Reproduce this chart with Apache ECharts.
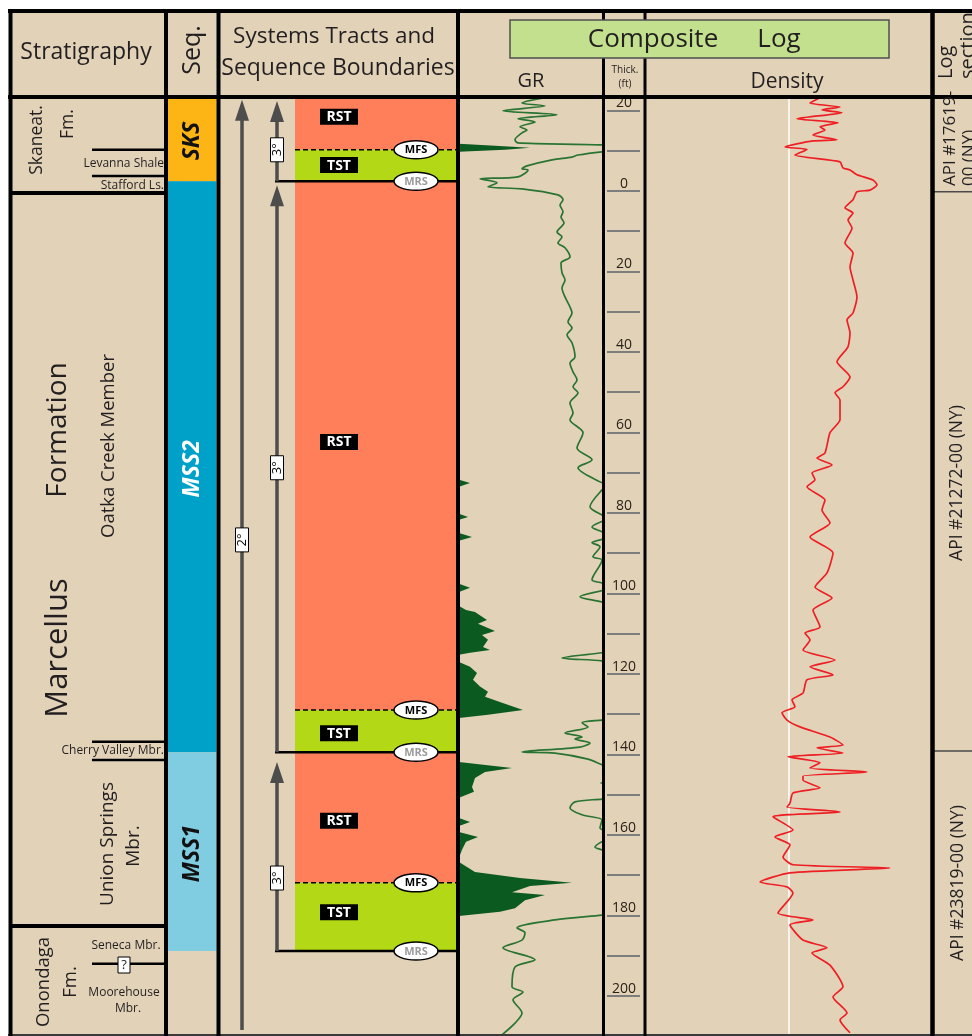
<!DOCTYPE html>
<html>
<head>
<meta charset="utf-8">
<script src="https://cdn.jsdelivr.net/npm/echarts@6/dist/echarts.min.js"></script>
<style>
  html, body { margin: 0; padding: 0; background: #ffffff; }
  #chart { width: 972px; height: 1036px; }
</style>
</head>
<body>
<div id="chart"></div>
<script>
// Depth in feet relative to the top of the Marcellus (negative = above it)
const depthRange = [-23.3, 209.7];

// Thickness scale labels (ft)
const thickLabels = [-20, 0, 20, 40, 60, 80, 100, 120, 140, 160, 180, 200];

// Sequences: [name, top, base]
const sequences = [
  ['SKS', -23.3, -2.4],
  ['MSS2', -2.4, 139.3],
  ['MSS1', 139.3, 188.6]
];

// Systems tracts: [name, top, base, label depth]
const systemsTracts = [
  ['RST', -23.3, -10.2, -18.4],
  ['TST', -10.2, -2.4, -6.4],
  ['RST', -2.4, 128.8, 62.3],
  ['TST', 128.8, 139.3, 134.6],
  ['RST', 139.3, 171.7, 156.3],
  ['TST', 171.7, 188.6, 179.0]
];

// Key surfaces: [name, depth]
const surfaces = [
  ['MFS', -10.2], ['MRS', -2.4],
  ['MFS', 128.8], ['MRS', 139.3],
  ['MFS', 171.7], ['MRS', 188.6]
];

// Stratigraphic cycles: [order, base, top, label depth]
const cycles = [
  [2, 208.2, -22.6, 86.6],
  [3, -2.4, -22.3, -10.2],
  [3, 139.3, -1.4, 68.7],
  [3, 188.6, 141.7, 170.5]
];

// Formation contacts and member contacts (ft)
const formationTops = [0.5, 182.4];
const memberContacts = [-10.2, -3.7, 136.7, 141.2, 191.8];

// Depths where the composite log switches well
const logSectionBreaks = [0.2, 139.0];

// Gamma ray curve: [GR, depth]
const grCurve = [
  [84,-23.1],[63,-21.8],[86,-21.1],[44,-19.9],[98,-18.9],[59,-17.9],[76,-17.1],[61,-15.9],
  [68,-15.1],[63,-14.4],[56,-12.7],[59,-11.9],[143,-11.4],[160,-10.6],[160,-10.0],[143,-9.7],
  [119,-8.9],[113,-8.4],[93,-7.7],[68,-6.2],[63,-5.5],[69,-5.2],[59,-3.5],[21,-3.0],
  [38,-2.0],[29,-1.0],[63,-0.5],[99,1.0],[104,2.2],[101,3.5],[104,5.2],[102,6.5],
  [105,7.9],[98,10.2],[103,11.4],[99,12.9],[106,14.1],[111,16.4],[102,17.9],[103,20.3],
  [106,22.1],[103,24.1],[106,26.3],[111,28.8],[113,30.3],[109,32.5],[113,34.0],[108,35.7],
  [113,37.7],[116,41.2],[111,42.7],[114,44.9],[118,46.9],[114,48.6],[119,50.1],[111,52.6],
  [114,55.1],[111,56.8],[124,60.0],[118,63.8],[133,66.7],[119,68.7],[141,72.2],[150,73.0],
  [143,74.2],[131,78.4],[143,80.4],[150,81.0],[133,83.4],[143,84.6],[150,85.8],[133,87.3],
  [141,88.3],[134,90.8],[143,91.6],[133,96.5],[143,97.3],[150,98.4],[121,100.7],[143,102.0],
  [160,103.5],[160,114.0],[143,114.6],[103,115.9],[143,116.6],[160,117.4],[160,130.8],[143,131.3],
  [123,132.0],[129,133.0],[106,134.5],[123,135.5],[116,136.0],[131,137.0],[121,138.0],[63,139.2],
  [96,139.5],[129,141.0],[143,142.4],[160,144.0],[160,146.4],[142,146.9],[160,147.5],[160,150.3],
  [143,150.9],[116,151.6],[111,153.1],[123,154.8],[143,156.1],[141,158.1],[155,159.5],[136,162.8],
  [143,163.5],[160,165.0],[160,179.2],[143,179.7],[96,180.9],[58,182.9],[66,184.1],[63,185.9],
  [44,187.8],[76,190.8],[56,192.6],[53,197.5],[64,198.8],[54,200.7],[63,204.0],[56,206.5],[43,209.4]
];

// Off-scale gamma ray, wrapped back onto the track: [GR - scale max, depth]
const grWrap = [
  [[0,-11.7],[36,-11.2],[71,-10.7],[46,-10.2],[0,-9.7]],
  [[0,71.7],[11,72.5],[0,73.4]],
  [[0,80.1],[9,80.9],[0,81.6]],
  [[0,84.9],[13,85.9],[0,86.8]],
  [[0,97.5],[11,98.5],[0,99.5]],
  [[0,103.0],[7,104.0],[16,104.5],[28,106.5],[19,107.4],[36,109.2],[23,110.2],[29,111.4],
   [24,113.2],[31,113.9],[11,114.6],[0,115.1]],
  [[0,116.9],[11,118.1],[18,119.6],[14,121.3],[21,123.0],[29,124.3],[26,125.5],[43,127.0],
   [64,128.8],[29,130.0],[0,130.8]],
  [[0,141.7],[53,143.2],[26,144.2],[16,145.7],[13,147.9],[15,149.1],[0,150.6]],
  [[0,155.6],[11,156.6],[0,157.6]],
  [[0,159.1],[19,160.3],[7,161.5],[3,163.5],[0,165.5]],
  [[0,166.5],[16,169.0],[61,170.5],[113,171.7],[71,172.5],[53,174.0],[86,174.7],[66,176.0],
   [56,178.0],[41,178.9],[0,179.9]]
];

// Bulk density curve (relative track units): [density, depth]
const densityCurve = [
  [175,-23.1],[165,-21.8],[195,-20.8],[177,-20.1],[197,-19.4],[152,-17.9],[193,-16.9],[175,-15.9],
  [180,-15.1],[168,-13.9],[192,-12.7],[168,-12.4],[140,-10.9],[162,-10.3],[150,-8.9],[195,-7.2],
  [198,-5.7],[205,-5.2],[212,-4.0],[228,-2.7],[232,-1.5],[225,-0.2],[212,0.2],[208,2.2],
  [200,4.2],[208,5.5],[203,7.2],[207,9.2],[200,12.9],[208,15.4],[205,18.9],[208,22.1],
  [212,26.3],[208,30.3],[202,32.0],[205,35.2],[203,38.7],[192,42.4],[205,46.2],[198,48.6],
  [190,50.1],[195,51.9],[195,56.8],[185,60.0],[180,65.0],[172,66.3],[187,68.0],[167,70.0],
  [170,71.7],[162,73.4],[180,76.7],[177,79.2],[185,82.4],[165,85.9],[188,89.8],[182,94.8],
  [170,98.3],[187,101.0],[168,104.0],[175,108.2],[160,109.7],[165,111.4],[158,113.9],[190,116.4],
  [165,118.1],[188,120.1],[162,121.3],[158,124.6],[147,126.3],[150,128.0],[137,129.5],[142,131.3],
  [155,133.0],[185,135.5],[198,137.5],[172,138.2],[198,139.5],[143,140.4],[175,141.9],[165,143.2],
  [222,144.2],[158,145.2],[158,146.2],[175,148.1],[148,149.4],[145,151.9],[142,152.9],[195,154.1],
  [128,155.3],[148,158.6],[130,160.3],[145,162.3],[138,165.3],[148,167.2],[245,168.0],[145,169.2],
  [115,171.5],[142,172.7],[148,174.2],[133,179.2],[168,180.9],[145,182.1],[158,185.9],[182,187.8],
  [167,189.1],[185,192.1],[198,197.5],[188,200.0],[202,204.0],[195,205.7],[205,208.9]
];
const densityReference = 144;

// ---- layout (pixels) ----
const FONT = '"Open Sans", "Noto Sans", sans-serif';
const BG = '#e2d3b8';
const INK = '#231f20';
const X = {
  stratL: 10, stratR: 166, memberL: 92,
  seqL: 168, seqR: 216.5,
  arrow2: 242, arrow3: 277,
  tractL: 295, tractR: 456.5, tractLabel: 339,
  mrsL: 275, surfR: 458, ellipse: 416,
  logL: 932, logR: 972
};
const seqStyle = {
  SKS: { fill: '#fdb515', text: '#111111' },
  MSS2: { fill: '#00a1c8', text: '#ffffff' },
  MSS1: { fill: '#80cde1', text: '#111111' }
};
const tractFill = { RST: '#ff7f5b', TST: '#b3d916' };
const PLOT_TOP = 97, PLOT_H = 939;
const PX_PER_FT = PLOT_H / (depthRange[1] - depthRange[0]);

const chart = echarts.init(document.getElementById('chart'), null, { renderer: 'canvas' });

function font(size, weight, style) {
  return (style || 'normal') + ' ' + (weight || 'normal') + ' ' + size + 'px ' + FONT;
}

const depthAxis = (gi) => ({
  gridIndex: gi, type: 'value', inverse: true, min: depthRange[0], max: depthRange[1], show: false
});

// ---- custom renderers (layout grid: x in pixels, y in depth) ----
function renderSequence(params, api) {
  const s = sequences[params.dataIndex];
  const a = api.coord([X.seqL, s[1]]);
  const b = api.coord([X.seqR, s[2]]);
  const m = api.coord([(X.seqL + X.seqR) / 2, (s[1] + s[2]) / 2]);
  return {
    type: 'group',
    children: [
      { type: 'rect', shape: { x: a[0], y: a[1], width: b[0] - a[0], height: b[1] - a[1] },
        style: { fill: seqStyle[s[0]].fill } },
      { type: 'text', x: m[0], y: m[1] + 2, rotation: Math.PI / 2,
        style: { text: s[0], fill: seqStyle[s[0]].text, font: font(23, 'bold', 'italic'),
                 align: 'center', verticalAlign: 'middle' } }
    ]
  };
}

function renderTract(params, api) {
  const t = systemsTracts[params.dataIndex];
  const a = api.coord([X.tractL, t[1]]);
  const b = api.coord([X.tractR, t[2]]);
  const m = api.coord([X.tractLabel, t[3]]);
  return {
    type: 'group',
    children: [
      { type: 'rect', shape: { x: a[0], y: a[1], width: b[0] - a[0], height: b[1] - a[1] },
        style: { fill: tractFill[t[0]] } },
      { type: 'rect', shape: { x: m[0] - 19, y: m[1] - 8, width: 38, height: 16 },
        style: { fill: '#000000' } },
      { type: 'text', x: m[0], y: m[1] + 0.5,
        style: { text: t[0], fill: '#ffffff', font: font(14, 'bold'), align: 'center', verticalAlign: 'middle' } }
    ]
  };
}

function renderSurface(params, api) {
  const s = surfaces[params.dataIndex];
  const isMrs = s[0] === 'MRS';
  const a = api.coord([isMrs ? X.mrsL : X.tractL, s[1]]);
  const b = api.coord([X.surfR, s[1]]);
  const e = api.coord([X.ellipse, s[1]]);
  return {
    type: 'group',
    children: [
      { type: 'line', shape: { x1: a[0], y1: a[1], x2: b[0], y2: b[1] },
        style: isMrs ? { stroke: '#000', lineWidth: 2.5 }
                     : { stroke: '#000', lineWidth: 1.5, lineDash: [5, 3] } },
      { type: 'ellipse', shape: { cx: e[0], cy: e[1], rx: 22, ry: 9 },
        style: { fill: '#ffffff', stroke: '#000', lineWidth: 1.5 } },
      { type: 'text', x: e[0], y: e[1] + 0.5,
        style: { text: s[0], fill: isMrs ? '#9b9b9b' : '#000000', font: font(11, 'bold'),
                 align: 'center', verticalAlign: 'middle' } }
    ]
  };
}

function renderCycle(params, api) {
  const c = cycles[params.dataIndex];
  const x = c[0] === 2 ? X.arrow2 : X.arrow3;
  const base = api.coord([x, c[1]]);
  const tip = api.coord([x, c[2]]);
  const lab = api.coord([x, c[3]]);
  const col = '#4d4d4d';
  return {
    type: 'group',
    children: [
      { type: 'line', shape: { x1: x, y1: base[1], x2: x, y2: tip[1] + 18 },
        style: { stroke: col, lineWidth: 3.5 } },
      { type: 'polygon', shape: { points: [[x - 7, tip[1] + 21], [x + 7, tip[1] + 21], [x, tip[1]]] },
        style: { fill: col } },
      { type: 'rect', shape: { x: x - 6.5, y: lab[1] - 12, width: 13, height: 24 },
        style: { fill: '#ffffff', stroke: '#000', lineWidth: 1 } },
      { type: 'text', x: x + 0.5, y: lab[1], rotation: Math.PI / 2,
        style: { text: c[0] + '°', fill: '#000', font: font(13), align: 'center', verticalAlign: 'middle' } }
    ]
  };
}

const contactRows = formationTops.map(d => [d, 0]).concat(memberContacts.map(d => [d, 1]));
function renderContact(params, api) {
  const r = contactRows[params.dataIndex];
  const isFm = r[1] === 0;
  const a = api.coord([isFm ? X.stratL : X.memberL, r[0]]);
  const b = api.coord([X.stratR, r[0]]);
  return { type: 'line', shape: { x1: a[0], y1: a[1], x2: b[0], y2: b[1] },
           style: { stroke: '#000', lineWidth: isFm ? 4 : 2.5 } };
}

function renderLogBreak(params, api) {
  const d = logSectionBreaks[params.dataIndex];
  const a = api.coord([X.logL, d]);
  const b = api.coord([X.logR, d]);
  return { type: 'line', shape: { x1: a[0], y1: a[1], x2: b[0], y2: b[1] },
           style: { stroke: '#4a4a4a', lineWidth: 1.5 } };
}

function renderWrap(params, api) {
  const seg = grWrap[params.dataIndex];
  return { type: 'polygon', shape: { points: seg.map(p => api.coord(p)) },
           style: { fill: '#0b5a20' } };
}

// ---- frame, headings and interval names ----
function T(text, x, y, size, o) {
  o = o || {};
  return { type: 'text', x: x, y: y, z: 110, rotation: o.rot ? Math.PI / 2 : 0, silent: true,
           style: { text: text, fill: o.color || INK, font: font(size, o.weight, o.style),
                    align: o.align || 'center', verticalAlign: 'middle' } };
}
function L(x1, y1, x2, y2, w, c) {
  return { type: 'line', z: 100, silent: true, shape: { x1: x1, y1: y1, x2: x2, y2: y2 },
           style: { stroke: c || '#000', lineWidth: w } };
}

const graphics = [
  { type: 'rect', z: 0, silent: true, shape: { x: 10, y: 10, width: 962, height: 1026 }, style: { fill: BG } },
  // frame
  L(8, 11, 972, 11, 4), L(8, 97, 972, 97, 4), L(8, 1035, 972, 1035, 2, '#3a3a3a'),
  L(10.5, 9, 10.5, 1036, 4), L(166, 9, 166, 1036, 4), L(218.5, 9, 218.5, 1036, 4),
  L(458, 9, 458, 1036, 4), L(603.5, 9, 603.5, 1036, 3), L(645, 9, 645, 1036, 3),
  L(932.5, 9, 932.5, 1036, 4.5),
  // composite log banner
  { type: 'rect', z: 105, silent: true, shape: { x: 510, y: 20, width: 379, height: 38 },
    style: { fill: '#c3e08f', stroke: '#4f4f4f', lineWidth: 1.5 } },
  T('Composite', 653, 40, 26), T('Log', 779, 40, 26),
  // headings
  T('Stratigraphy', 86, 52, 23),
  T('Seq.', 193, 50, 25, { rot: true }),
  T('Systems Tracts and', 334, 37, 22.5),
  T('Sequence Boundaries', 338, 68, 23),
  T('GR', 531, 81, 20),
  T('Thick.', 625, 70, 10), T('(ft)', 625, 84, 10),
  T('Density', 787, 82, 21),
  T('Log', 946, 79, 20, { rot: true, align: 'left' }),
  T('section', 968, 79, 20, { rot: true, align: 'left' }),
  // stratigraphy names
  T('Skaneat.', 37, 140, 17.5, { rot: true }),
  T('Fm.', 68, 124, 17.5, { rot: true }),
  T('Levanna Shale', 164, 164, 12, { align: 'right' }),
  T('Stafford Ls.', 164, 186, 12, { align: 'right' }),
  T('Formation', 58, 430, 28, { rot: true }),
  T('Marcellus', 58, 648, 31, { rot: true }),
  T('Oatka Creek Member', 109, 446, 18.5, { rot: true }),
  T('Cherry Valley Mbr.', 164, 751, 12, { align: 'right' }),
  T('Union Springs', 108, 844, 19, { rot: true }),
  T('Mbr.', 134, 846, 19, { rot: true }),
  T('Onondaga', 44, 982, 18.5, { rot: true }),
  T('Fm.', 71, 982, 18.5, { rot: true }),
  T('Seneca Mbr.', 126, 946, 12),
  { type: 'rect', z: 105, silent: true, shape: { x: 118, y: 957, width: 12, height: 16 },
    style: { fill: '#ffffff', stroke: '#000', lineWidth: 1 } },
  T('?', 124, 965.5, 13),
  T('Moorehouse', 124, 993, 12),
  T('Mbr.', 128, 1009, 12),
  // log sections
  T('API #17619-', 950, 186, 17, { rot: true, align: 'left' }),
  T('00 (NY)', 969, 186, 17, { rot: true, align: 'left' }),
  T('API #21272-00 (NY)', 957, 483, 17.5, { rot: true }),
  T('API #23819-00 (NY)', 958, 883, 17.5, { rot: true })
];

const option = {
  animation: false,
  backgroundColor: '#ffffff',
  grid: [
    { left: 0, top: PLOT_TOP, width: 972, height: PLOT_H },
    { left: 459, top: PLOT_TOP, width: 144, height: PLOT_H },
    { left: 645, top: PLOT_TOP, width: 287, height: PLOT_H },
    { left: 607, top: PLOT_TOP + (thickLabels[0] - depthRange[0]) * PX_PER_FT, width: 33,
      height: (210 - thickLabels[0]) * PX_PER_FT }
  ],
  xAxis: [
    { gridIndex: 0, type: 'value', min: 0, max: 972, show: false },
    { gridIndex: 1, type: 'value', min: 0, max: 144, show: false },
    { gridIndex: 2, type: 'value', min: 0, max: 287, show: false },
    { gridIndex: 3, type: 'value', min: 0, max: 1, show: false }
  ],
  yAxis: [
    depthAxis(0), depthAxis(1), depthAxis(2),
    {
      gridIndex: 3, type: 'value', inverse: true, min: -20, max: 210, interval: 10,
      axisLine: { show: false }, axisTick: { show: false },
      splitLine: { show: true, lineStyle: { color: '#7d7d7d', width: 2 } },
      axisLabel: {
        inside: true, margin: 17, align: 'center', verticalAlign: 'bottom',
        fontSize: 14, fontFamily: FONT, color: '#2b2119',
        formatter: v => thickLabels.indexOf(v) >= 0 ? String(Math.abs(v)) : ''
      }
    }
  ],
  graphic: { elements: graphics },
  series: [
    { type: 'custom', name: 'Sequences', xAxisIndex: 0, yAxisIndex: 0, z: 2, silent: true,
      renderItem: renderSequence, data: sequences.map(s => [s[1], s[2]]) },
    { type: 'custom', name: 'Systems tracts', xAxisIndex: 0, yAxisIndex: 0, z: 2, silent: true,
      renderItem: renderTract, data: systemsTracts.map(t => [t[1], t[2]]) },
    { type: 'custom', name: 'Surfaces', xAxisIndex: 0, yAxisIndex: 0, z: 4, silent: true,
      renderItem: renderSurface, data: surfaces.map(s => [0, s[1]]) },
    { type: 'custom', name: 'Cycles', xAxisIndex: 0, yAxisIndex: 0, z: 4, silent: true,
      renderItem: renderCycle, data: cycles.map(c => [c[1], c[2]]) },
    { type: 'custom', name: 'Contacts', xAxisIndex: 0, yAxisIndex: 0, z: 4, silent: true,
      renderItem: renderContact, data: contactRows },
    { type: 'custom', name: 'Log sections', xAxisIndex: 0, yAxisIndex: 0, z: 4, silent: true,
      renderItem: renderLogBreak, data: logSectionBreaks.map(d => [0, d]) },
    { type: 'custom', name: 'GR wrap', xAxisIndex: 1, yAxisIndex: 1, z: 3, silent: true, clip: true,
      renderItem: renderWrap, data: grWrap.map((s, i) => [i, s[0][1]]) },
    { type: 'line', name: 'GR', xAxisIndex: 1, yAxisIndex: 1, z: 5, silent: true,
      data: grCurve, showSymbol: false, smooth: 0.3, clip: true,
      lineStyle: { color: '#2a7433', width: 1.7 } },
    { type: 'line', name: 'Density reference', xAxisIndex: 2, yAxisIndex: 2, z: 3, silent: true,
      data: [[densityReference, depthRange[0]], [densityReference, depthRange[1]]], showSymbol: false,
      lineStyle: { color: '#ffffff', width: 1.5 } },
    { type: 'line', name: 'Density', xAxisIndex: 2, yAxisIndex: 2, z: 5, silent: true,
      data: densityCurve, showSymbol: false, smooth: 0.2, clip: true,
      lineStyle: { color: '#ee1f24', width: 1.7 } },
    { type: 'line', name: 'Thickness', xAxisIndex: 3, yAxisIndex: 3, data: [], showSymbol: false }
  ]
};

chart.setOption(option);
</script>
</body>
</html>
